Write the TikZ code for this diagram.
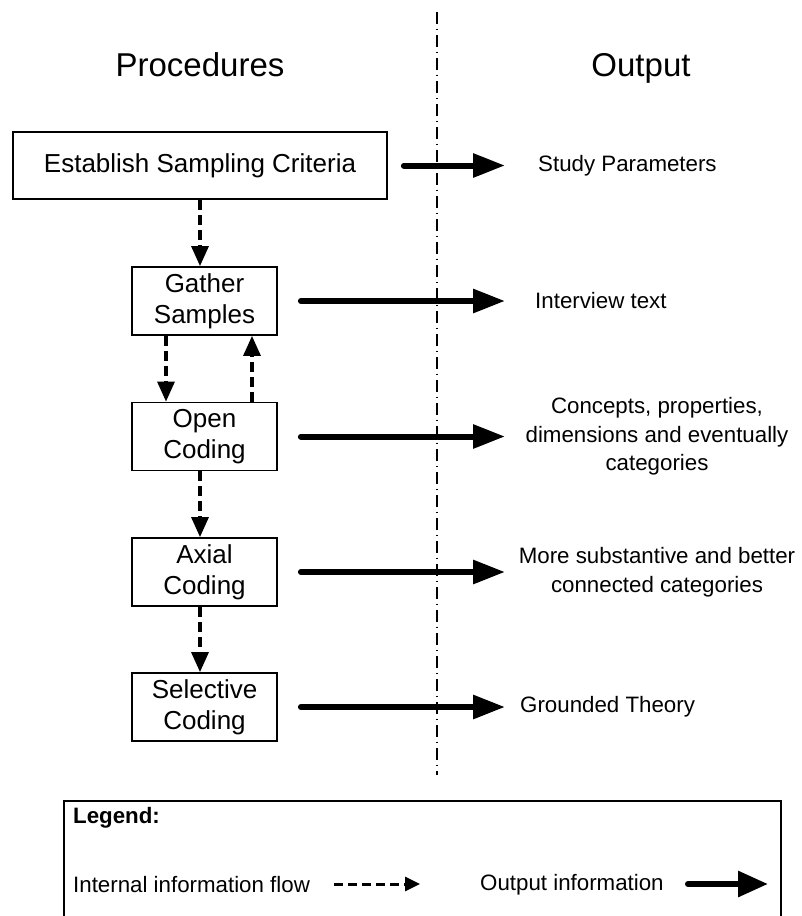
\documentclass[tikz,border=0pt]{standalone}
\usepackage{fontspec}
\setmainfont{Liberation Sans}
\usetikzlibrary{arrows.meta}

\begin{document}
\begin{tikzpicture}[x=1pt,y=-1pt,
  procbox/.style={draw, line width=1.8pt, inner sep=0pt, align=center,
    font=\fontsize{26}{31}\selectfont},
  smallbox/.style={procbox, minimum width=145pt, minimum height=68pt},
  heading/.style={font=\fontsize{33}{40}\selectfont, anchor=base},
  outtext/.style={font=\fontsize{22.3}{28.5}\selectfont, align=center, inner sep=0pt},
  inflow/.style={line width=3.2pt, dash pattern=on 10pt off 5pt,
    -{Triangle[length=20pt,width=17pt]}},
  outflow/.style={line width=6pt, line cap=round,
    -{Triangle[length=32pt,width=23pt]}},
  divider/.style={line width=2.2pt, dash pattern=on 12pt off 4.5pt on 1.5pt off 5pt}
]
\useasboundingbox (0,0) rectangle (801,916);

% column headings and divider
\node[heading] (hproc) at (200,76) {Procedures};
\node[heading] (hout) at (641,76) {Output};
\coordinate (dtop) at (437,12);
\coordinate (dbot) at (437,775);
\draw[divider] (dtop) -- (dbot);

% procedure boxes
\node[procbox, minimum width=374pt, minimum height=67pt] (crit) at (200,165.5) {Establish Sampling Criteria};
\node[smallbox] (gather) at (204.5,301) {Gather\\Samples};
\node[smallbox] (open) at (204.5,436.5) {Open\\Coding};
\node[smallbox] (axial) at (204.5,572) {Axial\\Coding};
\node[smallbox] (select) at (204.5,707) {Selective\\Coding};

% output texts
\node[outtext, anchor=west] (o1) at (538,165.5) {Study Parameters};
\node[outtext, anchor=west] (o2) at (535,301) {Interview text};
\node[outtext] (o3) at (657,436.5) {Concepts, properties,\\dimensions and eventually\\categories};
\node[outtext] (o4) at (657,572) {More substantive and better\\connected categories};
\node[outtext, anchor=west] (o5) at (520,707) {Grounded Theory};

% internal flow between procedures
\draw[inflow] (crit.south) -- (crit.south |- gather.north);
\draw[inflow] ([xshift=-38.5pt]gather.south) -- ([xshift=-38.5pt]open.north);
\draw[inflow] ([xshift=47.5pt]open.north) -- ([xshift=47.5pt]gather.south);
\draw[inflow] ([xshift=-4.5pt]open.south) -- ([xshift=-4.5pt]axial.north);
\draw[inflow] ([xshift=-4.5pt]axial.south) -- ([xshift=-4.5pt]select.north);

% output flow
\coordinate (tip) at (505,0);
\draw[outflow] ([xshift=16pt]crit.east) -- (crit.east -| tip);
\draw[outflow] ([xshift=23pt]gather.east) -- (gather.east -| tip);
\draw[outflow] ([xshift=23pt]open.east) -- (open.east -| tip);
\draw[outflow] ([xshift=23pt]axial.east) -- (axial.east -| tip);
\draw[outflow] ([xshift=23pt]select.east) -- (select.east -| tip);

% legend
\coordinate (lgbl) at (64,920);
\coordinate (lgtl) at (64,801);
\coordinate (lgtr) at (781,801);
\coordinate (lgbr) at (781,920);
\draw[line width=1.8pt] (lgbl) -- (lgtl) -- (lgtr) -- (lgbr);
\node[outtext, anchor=west, font=\fontsize{22.3}{28}\selectfont\bfseries] (lgtitle) at (73,818) {Legend:};
\node[outtext, anchor=west] (lgin) at (73,885) {Internal information flow};
\node[outtext, anchor=west] (lgout) at (480,885) {Output information};
\coordinate (lgia) at (334,884);
\coordinate (lgib) at (420,884);
\draw[line width=3pt, dash pattern=on 9pt off 5pt, -{Triangle[length=15pt,width=14pt]}] (lgia) -- (lgib);
\coordinate (lgoa) at (688,884);
\coordinate (lgob) at (768,884);
\draw[outflow, -{Triangle[length=30pt,width=25pt]}] (lgoa) -- (lgob);
\end{tikzpicture}
\end{document}
